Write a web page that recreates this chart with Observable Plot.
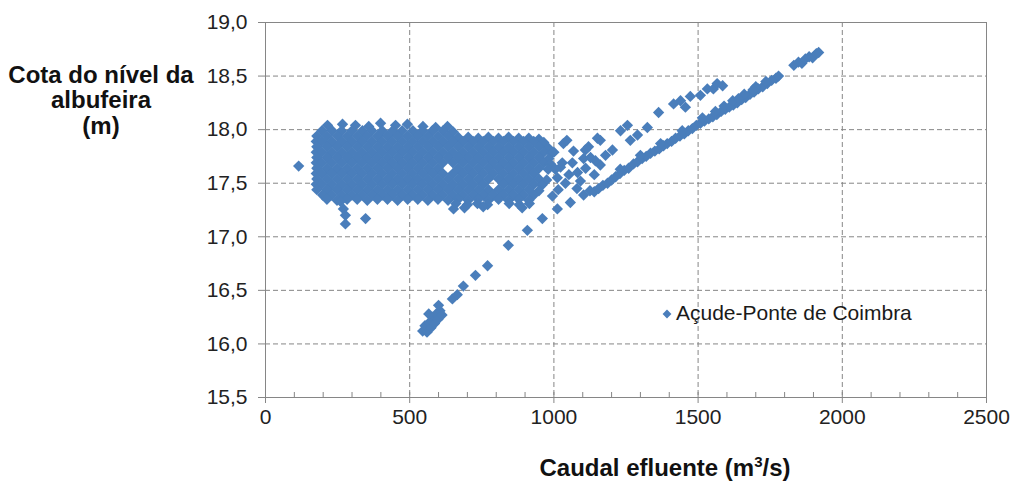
<!DOCTYPE html>
<html>
<head>
<meta charset="utf-8">
<script src="https://cdn.jsdelivr.net/npm/d3@7"></script>
<script src="https://cdn.jsdelivr.net/npm/@observablehq/plot@0.6"></script>
<style>
  html, body { margin: 0; padding: 0; background: #fff; }
  #chart { position: relative; width: 1010px; height: 483px; }
</style>
</head>
<body>
<div id="chart"></div>
<script>
// ---- tick values ----
const xTicks = [0, 500, 1000, 1500, 2000, 2500];
const xMinorTicks = [0,100,200,300,400,500,600,700,800,900,1000,1100,1200,1300,1400,1500,1600,1700,1800,1900,2000,2100,2200,2300,2400,2500];
const xGrid = [500, 1000, 1500, 2000];
const yTicks = [15.5, 16.0, 16.5, 17.0, 17.5, 18.0, 18.5, 19.0];
const yGrid = [16.0, 16.5, 17.0, 17.5, 18.0, 18.5];

const serieNome = "Açude-Ponte de Coimbra";

// ---- data: [caudal efluente (m3/s), cota (m)] ----
const nuvem = [
[115,17.66],
[215,18.04],[267,18.05],[312,18.04],[358,18.03],[399,18.06],[451,18.04],[492,18.05],[546,18.03],[590,18.02],[631,18.03],
[196,17.99],[231,17.99],[264,17.99],[300,17.99],[336,17.99],[369,17.99],[405,17.99],[441,17.99],[474,17.99],[511,17.99],[545,17.99],[579,17.99],[616,17.99],[650,17.98],
[178,17.94],[213,17.94],[249,17.94],[283,17.94],[318,17.94],[352,17.94],[388,17.94],[423,17.94],[458,17.94],[493,17.94],[528,17.94],[563,17.94],[598,17.94],[633,17.94],[668,17.93],[703,17.93],[738,17.92],[773,17.93],[808,17.92],[843,17.93],[878,17.92],[913,17.92],[948,17.91],
[176,17.89],[195,17.89],[230,17.89],[265,17.89],[300,17.89],[335,17.89],[370,17.89],[405,17.89],[440,17.89],[475,17.89],[510,17.89],[545,17.89],[580,17.89],[615,17.89],[650,17.89],[685,17.89],[720,17.89],[755,17.89],[790,17.89],[825,17.89],[860,17.89],[895,17.89],[930,17.89],[965,17.88],
[178,17.84],[213,17.84],[248,17.84],[283,17.84],[318,17.84],[353,17.84],[388,17.84],[423,17.84],[458,17.84],[493,17.84],[528,17.84],[563,17.84],[598,17.84],[633,17.84],[668,17.84],[703,17.84],[738,17.84],[773,17.84],[808,17.84],[843,17.84],[878,17.84],[913,17.84],[948,17.84],[980,17.83],
[176,17.79],[195,17.79],[230,17.79],[265,17.79],[300,17.79],[335,17.79],[370,17.79],[405,17.79],[440,17.79],[475,17.79],[510,17.79],[545,17.79],[580,17.79],[615,17.79],[650,17.79],[685,17.79],[720,17.79],[755,17.79],[790,17.79],[825,17.79],[860,17.79],[895,17.79],[930,17.79],[965,17.79],[992,17.78],
[178,17.74],[213,17.74],[248,17.74],[283,17.74],[318,17.74],[353,17.74],[388,17.74],[423,17.74],[458,17.74],[493,17.74],[528,17.74],[563,17.74],[598,17.74],[633,17.74],[668,17.74],[703,17.74],[738,17.74],[773,17.74],[808,17.74],[843,17.74],[878,17.74],[913,17.74],[948,17.74],[982,17.73],
[176,17.69],[195,17.69],[230,17.69],[265,17.69],[300,17.69],[335,17.69],[370,17.69],[405,17.69],[440,17.69],[475,17.69],[510,17.69],[545,17.69],[580,17.69],[615,17.69],[650,17.69],[685,17.69],[720,17.69],[755,17.69],[790,17.69],[825,17.69],[860,17.69],[895,17.69],[930,17.69],[965,17.69],[988,17.68],
[178,17.64],[213,17.64],[248,17.64],[283,17.64],[318,17.64],[353,17.64],[388,17.64],[423,17.64],[458,17.64],[493,17.64],[528,17.64],[563,17.64],[598,17.64],[668,17.64],[703,17.64],[738,17.64],[773,17.64],[808,17.64],[843,17.64],[878,17.64],[913,17.64],[948,17.64],[980,17.63],
[176,17.59],[195,17.59],[230,17.59],[265,17.59],[300,17.59],[335,17.59],[370,17.59],[405,17.59],[440,17.59],[475,17.59],[510,17.59],[545,17.59],[580,17.59],[615,17.59],[650,17.59],[685,17.59],[720,17.59],[755,17.59],[790,17.59],[825,17.59],[860,17.59],[895,17.59],[930,17.59],
[178,17.54],[213,17.54],[248,17.54],[283,17.54],[318,17.54],[353,17.54],[388,17.54],[423,17.54],[458,17.54],[493,17.54],[528,17.54],[563,17.54],[598,17.54],[633,17.54],[668,17.54],[703,17.54],[738,17.54],[773,17.54],[808,17.54],[843,17.54],[878,17.54],[913,17.54],[948,17.54],[975,17.53],
[176,17.49],[195,17.49],[230,17.49],[265,17.49],[300,17.49],[335,17.49],[370,17.49],[405,17.49],[440,17.49],[475,17.49],[510,17.49],[545,17.49],[580,17.49],[615,17.49],[650,17.49],[685,17.49],[720,17.49],[755,17.49],[825,17.49],[860,17.49],[895,17.49],[930,17.49],[958,17.48],
[178,17.44],[213,17.44],[248,17.44],[283,17.44],[318,17.44],[353,17.44],[388,17.44],[423,17.44],[458,17.44],[493,17.44],[528,17.44],[563,17.44],[598,17.44],[633,17.44],[668,17.44],[703,17.44],[738,17.44],[773,17.44],[808,17.44],[843,17.44],[878,17.44],[913,17.44],[948,17.43],
[198,17.39],[230,17.39],[265,17.39],[300,17.39],[335,17.39],[370,17.39],[405,17.39],[440,17.39],[475,17.39],[510,17.39],[545,17.39],[580,17.39],[615,17.39],[650,17.39],[685,17.39],[720,17.39],[755,17.39],[790,17.39],[825,17.39],[860,17.39],[895,17.39],[930,17.39],
[213,17.35],[248,17.34],[283,17.35],[318,17.35],[353,17.34],[388,17.35],[423,17.35],[458,17.34],[493,17.35],[528,17.35],[563,17.34],[598,17.35],[633,17.34],[668,17.35],[703,17.34],[738,17.35],[773,17.34],[808,17.35],[843,17.34],[878,17.35],[913,17.34],
[660,17.31],[700,17.30],[735,17.31],[770,17.30],[845,17.31],[880,17.30],[915,17.31],
[652,17.26],[690,17.27],[755,17.28],[890,17.27],
[260,17.33],[270,17.26],[277,17.20],[277,17.12],[347,17.17]
];

const transicao = [
[1000,17.79],[1033,17.87],[1045,17.90],[1029,17.69],[1064,17.69],[1082,17.60],[1040,17.50],[1012,17.55],
[1103,17.73],[1127,17.74],[1161,17.67],[1023,17.65],[1068,17.80],[1005,17.63],[1015,17.44],[995,17.38],
[1052,17.58],[1092,17.52],[1110,17.64],[1140,17.58],[1080,17.45],[1120,17.84]
];

const ramoInferior = [
[545,16.12],[553,16.17],[560,16.11],[568,16.20],[574,16.15],[580,16.25],[586,16.19],[592,16.28],[598,16.23],[605,16.31],[612,16.27],[566,16.28],[600,16.36],
[648,16.42],[665,16.46],[686,16.54],[728,16.64],[770,16.73],[842,16.92],[908,17.06],[960,17.17],[1012,17.26],[1057,17.32],[1103,17.39],[1125,17.43],
[1140,17.42],[1155,17.45],[1170,17.48],[1186,17.50],[1200,17.53],[1214,17.56],[1229,17.59],[1244,17.62],[1259,17.64],[1276,17.68],
[1290,17.70],[1306,17.73],[1320,17.75],[1335,17.78],[1350,17.80],[1365,17.82],[1380,17.85],[1393,17.87],[1408,17.89],[1422,17.92],
[1437,17.94],[1452,17.96],[1466,17.99],[1480,18.01],[1494,18.04],[1508,18.06],[1522,18.08],[1537,18.10],[1551,18.12],[1565,18.14],
[1580,18.17],[1594,18.19],[1608,18.21],[1622,18.23],[1636,18.25],[1651,18.28],[1665,18.30],[1680,18.33],[1694,18.35],[1709,18.38],
[1724,18.40],[1740,18.43],[1755,18.46],[1770,18.48],[1779,18.50],
[1230,17.63],[1300,17.76],[1370,17.87],[1445,17.99],[1515,18.11],[1590,18.22],[1620,18.27],[1660,18.33],[1700,18.40],[1735,18.45],
[1560,18.17],[1640,18.29],[1690,18.37],
[1832,18.60],[1848,18.63],[1860,18.62],[1872,18.66],[1885,18.68],[1897,18.67],[1910,18.71],[1918,18.72]
];

const ramoSuperior = [
[1109,17.81],[1144,17.71],[1151,17.92],[1161,17.90],[1179,17.76],[1203,17.81],[1231,17.99],[1255,18.04],
[1265,17.90],[1290,17.95],[1324,18.02],[1363,18.16],[1415,18.24],[1439,18.27],[1456,18.21],[1473,18.31],
[1508,18.32],[1532,18.38],[1553,18.38],[1566,18.43],[1585,18.41]
];

const dados = [...nuvem, ...transicao, ...ramoInferior, ...ramoSuperior]
  .map(([caudal, cota]) => ({caudal, cota}));

const cor = "#4a7ebb";
const cinza = "#868686";
const fmtY = d => d3.format(".1f")(d).replace(".", ",");
const fmtX = d => String(d);

const chart = Plot.plot({
  width: 1010,
  height: 483,
  marginLeft: 265,
  marginRight: 24,
  marginTop: 22,
  marginBottom: 86,
  style: {fontFamily: "Arial, 'Liberation Sans', sans-serif", fontSize: "21px", background: "#fff", color: "#222"},
  x: {domain: [0, 2500]},
  y: {domain: [15.5, 19]},
  marks: [
    Plot.gridX(xGrid, {stroke: cinza, strokeOpacity: 1, strokeDasharray: "5,3"}),
    Plot.gridY(yGrid, {stroke: cinza, strokeOpacity: 1, strokeDasharray: "5,3"}),
    Plot.ruleX(xMinorTicks, {stroke: cinza, insetTop: 370}),
    Plot.axisX(xTicks, {tickSize: 6, tickPadding: 6, stroke: cinza, fill: "#222", tickFormat: fmtX, label: null}),
    Plot.axisY(yTicks, {tickSize: 7, tickPadding: 11, stroke: cinza, fill: "#222", tickFormat: fmtY, label: null}),
    Plot.dot(dados, {x: "caudal", y: "cota", symbol: "diamond2", r: 5.1, fill: cor, stroke: "none"}),
    Plot.frame({stroke: cinza})
  ]
});

document.getElementById("chart").appendChild(chart);

const svg = d3.select(chart);
const titulo = svg.append("g")
  .attr("font-family", "Arial, 'Liberation Sans', sans-serif")
  .attr("font-weight", "bold")
  .attr("font-size", 24)
  .attr("fill", "#111")
  .attr("text-anchor", "middle");
titulo.append("text").attr("x", 101).attr("y", 83).text("Cota do nível da");
titulo.append("text").attr("x", 101).attr("y", 108).text("albufeira");
titulo.append("text").attr("x", 101).attr("y", 134).text("(m)");

const tx = titulo.append("text").attr("x", 665).attr("y", 476);
tx.append("tspan").text("Caudal efluente (m");
tx.append("tspan").attr("font-size", 15).attr("dy", -9).text("3");
tx.append("tspan").attr("dy", 9).text("/s)");

const leg = svg.append("g");
leg.append("path")
  .attr("d", d3.symbol(d3.symbolDiamond2, 50)())
  .attr("transform", "translate(667,314)")
  .attr("fill", cor);
leg.append("text")
  .attr("x", 676).attr("y", 320)
  .attr("text-anchor", "start")
  .attr("font-family", "Arial, 'Liberation Sans', sans-serif")
  .attr("font-size", 21)
  .attr("fill", "#1a1a1a")
  .text(serieNome);
</script>
</body>
</html>
